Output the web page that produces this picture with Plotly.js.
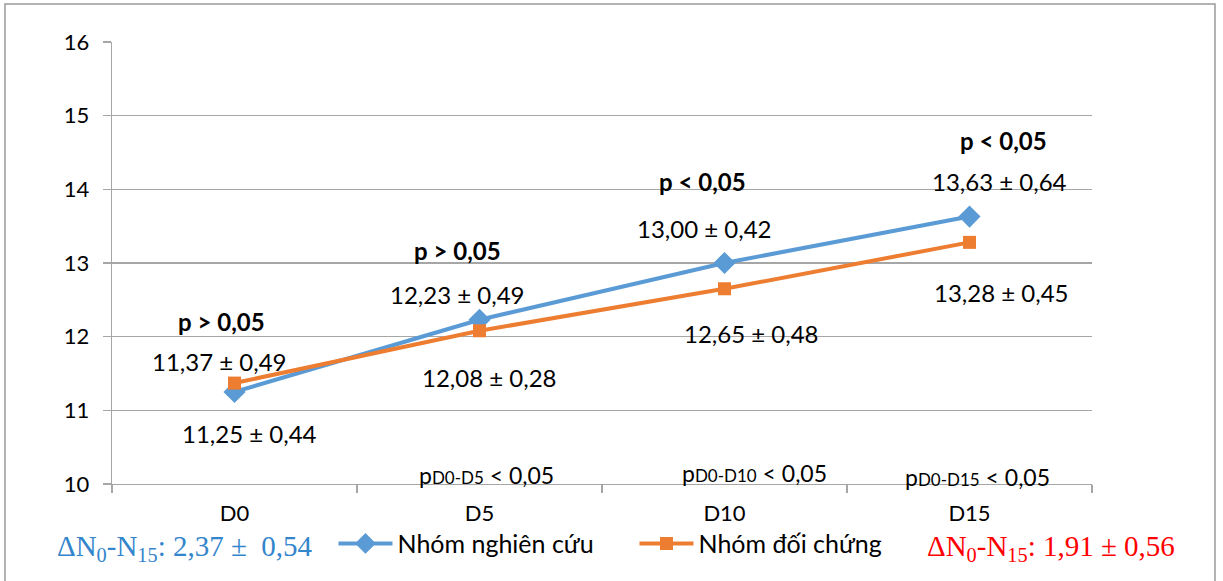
<!DOCTYPE html>
<html>
<head>
<meta charset="utf-8">
<script src="https://cdn.plot.ly/plotly-3.0.1.min.js"></script>
<style>html,body{margin:0;padding:0;background:#fff;}#chart{width:1223px;height:581px;}</style>
</head>
<body>
<div id="chart"></div>
<script>
// ---- data ----
const categories = ["D0", "D5", "D10", "D15"];
const studyName = "Nhóm nghiên cứu";
const controlName = "Nhóm đối chứng";
const studyMean = [11.25, 12.23, 13.00, 13.63];
const studySD = [0.44, 0.49, 0.42, 0.64];
const controlMean = [11.37, 12.08, 12.65, 13.28];
const controlSD = [0.49, 0.28, 0.48, 0.45];
const pBetween = ["p > 0,05", "p > 0,05", "p < 0,05", "p < 0,05"];
const pWithinSub = ["", "D0-D5", "D0-D10", "D0-D15"];
const pWithinText = "< 0,05";
const deltaStudy = "2,37 ±  0,54";
const deltaControl = "1,91 ± 0,56";

// ---- styling / layout ----
const fmt = v => v.toFixed(2).replace('.', ',');
const FONT = "Lato, 'Liberation Sans', sans-serif";
const BLUE = "#5b9bd5", ORANGE = "#ed7d31", GRID = "#a6a6a6";

const traces = [
  {x: categories, y: studyMean, name: studyName, type: "scatter", mode: "lines+markers",
   line: {color: BLUE, width: 4}, marker: {symbol: "diamond", size: 17, color: BLUE}},
  {x: categories, y: controlMean, name: controlName, type: "scatter", mode: "lines+markers",
   line: {color: ORANGE, width: 4}, marker: {symbol: "square", size: 13, color: ORANGE}}
];

const studyOff = [[15, -42], [-22, 25], [-20, 35], [30, 35]];
const controlOff = [[-15, 22], [10, -47], [27, -45], [32, -50]];
const pOff = [[-13, 70], [-22, 69], [-22, 82], [34, 76]];
const bottomOff = [[0, 0], [7, 9], [30, 11], [8, 7]];

const ann = [];
categories.forEach((c, i) => {
  ann.push({x: c, y: studyMean[i], xref: "x", yref: "y", showarrow: false,
    text: fmt(studyMean[i]) + " ± " + fmt(studySD[i]), xshift: studyOff[i][0], yshift: studyOff[i][1],
    font: {size: 24, color: "#000", family: FONT}});
  ann.push({x: c, y: controlMean[i], xref: "x", yref: "y", showarrow: false,
    text: fmt(controlMean[i]) + " ± " + fmt(controlSD[i]), xshift: controlOff[i][0], yshift: controlOff[i][1],
    font: {size: 24, color: "#000", family: FONT}});
  ann.push({x: c, y: studyMean[i], xref: "x", yref: "y", showarrow: false,
    text: "<b>" + pBetween[i] + "</b>", xshift: pOff[i][0], yshift: pOff[i][1],
    font: {size: 24, color: "#000", family: FONT}});
  if (pWithinSub[i]) {
    ann.push({x: c, y: 0, xref: "x", yref: "paper", showarrow: false, yanchor: "middle",
      text: "p<span style=\"font-size:17px\">" + pWithinSub[i] + "</span> " + pWithinText,
      xshift: bottomOff[i][0], yshift: bottomOff[i][1],
      font: {size: 23, color: "#000", family: FONT}});
  }
});
ann.push({x: -0.0582, y: -0.145, xref: "paper", yref: "paper", xanchor: "left", yanchor: "middle", showarrow: false,
  text: "ΔN<sub>0</sub>-N<sub>15</sub>: " + deltaStudy,
  font: {size: 29, color: "#3385cc", family: "'Liberation Serif', serif"}});
ann.push({x: 0.830, y: -0.145, xref: "paper", yref: "paper", xanchor: "left", yanchor: "middle", showarrow: false,
  text: "ΔN<sub>0</sub>-N<sub>15</sub>: " + deltaControl,
  font: {size: 29, color: "#ff0000", family: "'Liberation Serif', serif"}});

const layout = {
  width: 1223, height: 581,
  margin: {l: 112, r: 131, t: 42, b: 97},
  paper_bgcolor: "#fff", plot_bgcolor: "#fff",
  font: {family: FONT, color: "#000"},
  showlegend: true,
  legend: {orientation: "h", x: 0.226, xanchor: "left", y: -0.135, yanchor: "middle",
    font: {size: 25, family: FONT, color: "#000"}, bgcolor: "rgba(0,0,0,0)", itemwidth: 54,
    entrywidth: 232, traceorder: "normal"},
  xaxis: {type: "category", range: [-0.5, 3.5], showgrid: false, showline: true, linecolor: GRID, linewidth: 1.3,
    ticks: "outside", tickson: "boundaries", ticklen: 8, tickcolor: GRID, tickwidth: 1.3,
    tickfont: {size: 22, family: FONT, color: "#000"}, ticklabelstandoff: 9, zeroline: false, fixedrange: true},
  yaxis: {range: [10, 16], dtick: 1, showgrid: true, gridcolor: GRID, gridwidth: 1.3, showline: true, linecolor: GRID, linewidth: 1.3,
    ticks: "outside", ticklen: 8, tickcolor: GRID, tickwidth: 1.3, zeroline: false,
    tickfont: {size: 22, family: FONT, color: "#000"}, ticklabelstandoff: 9, fixedrange: true},
  annotations: ann,
  shapes: [{type: "rect", xref: "paper", yref: "paper", x0: -0.1092, x1: 1.1255, y0: -0.3, y1: 1.086,
    line: {color: "#9a9a9a", width: 1.5}, fillcolor: "rgba(0,0,0,0)", layer: "below"}]
};

Plotly.newPlot("chart", traces, layout, {displayModeBar: false, staticPlot: true});
</script>
</body>
</html>
